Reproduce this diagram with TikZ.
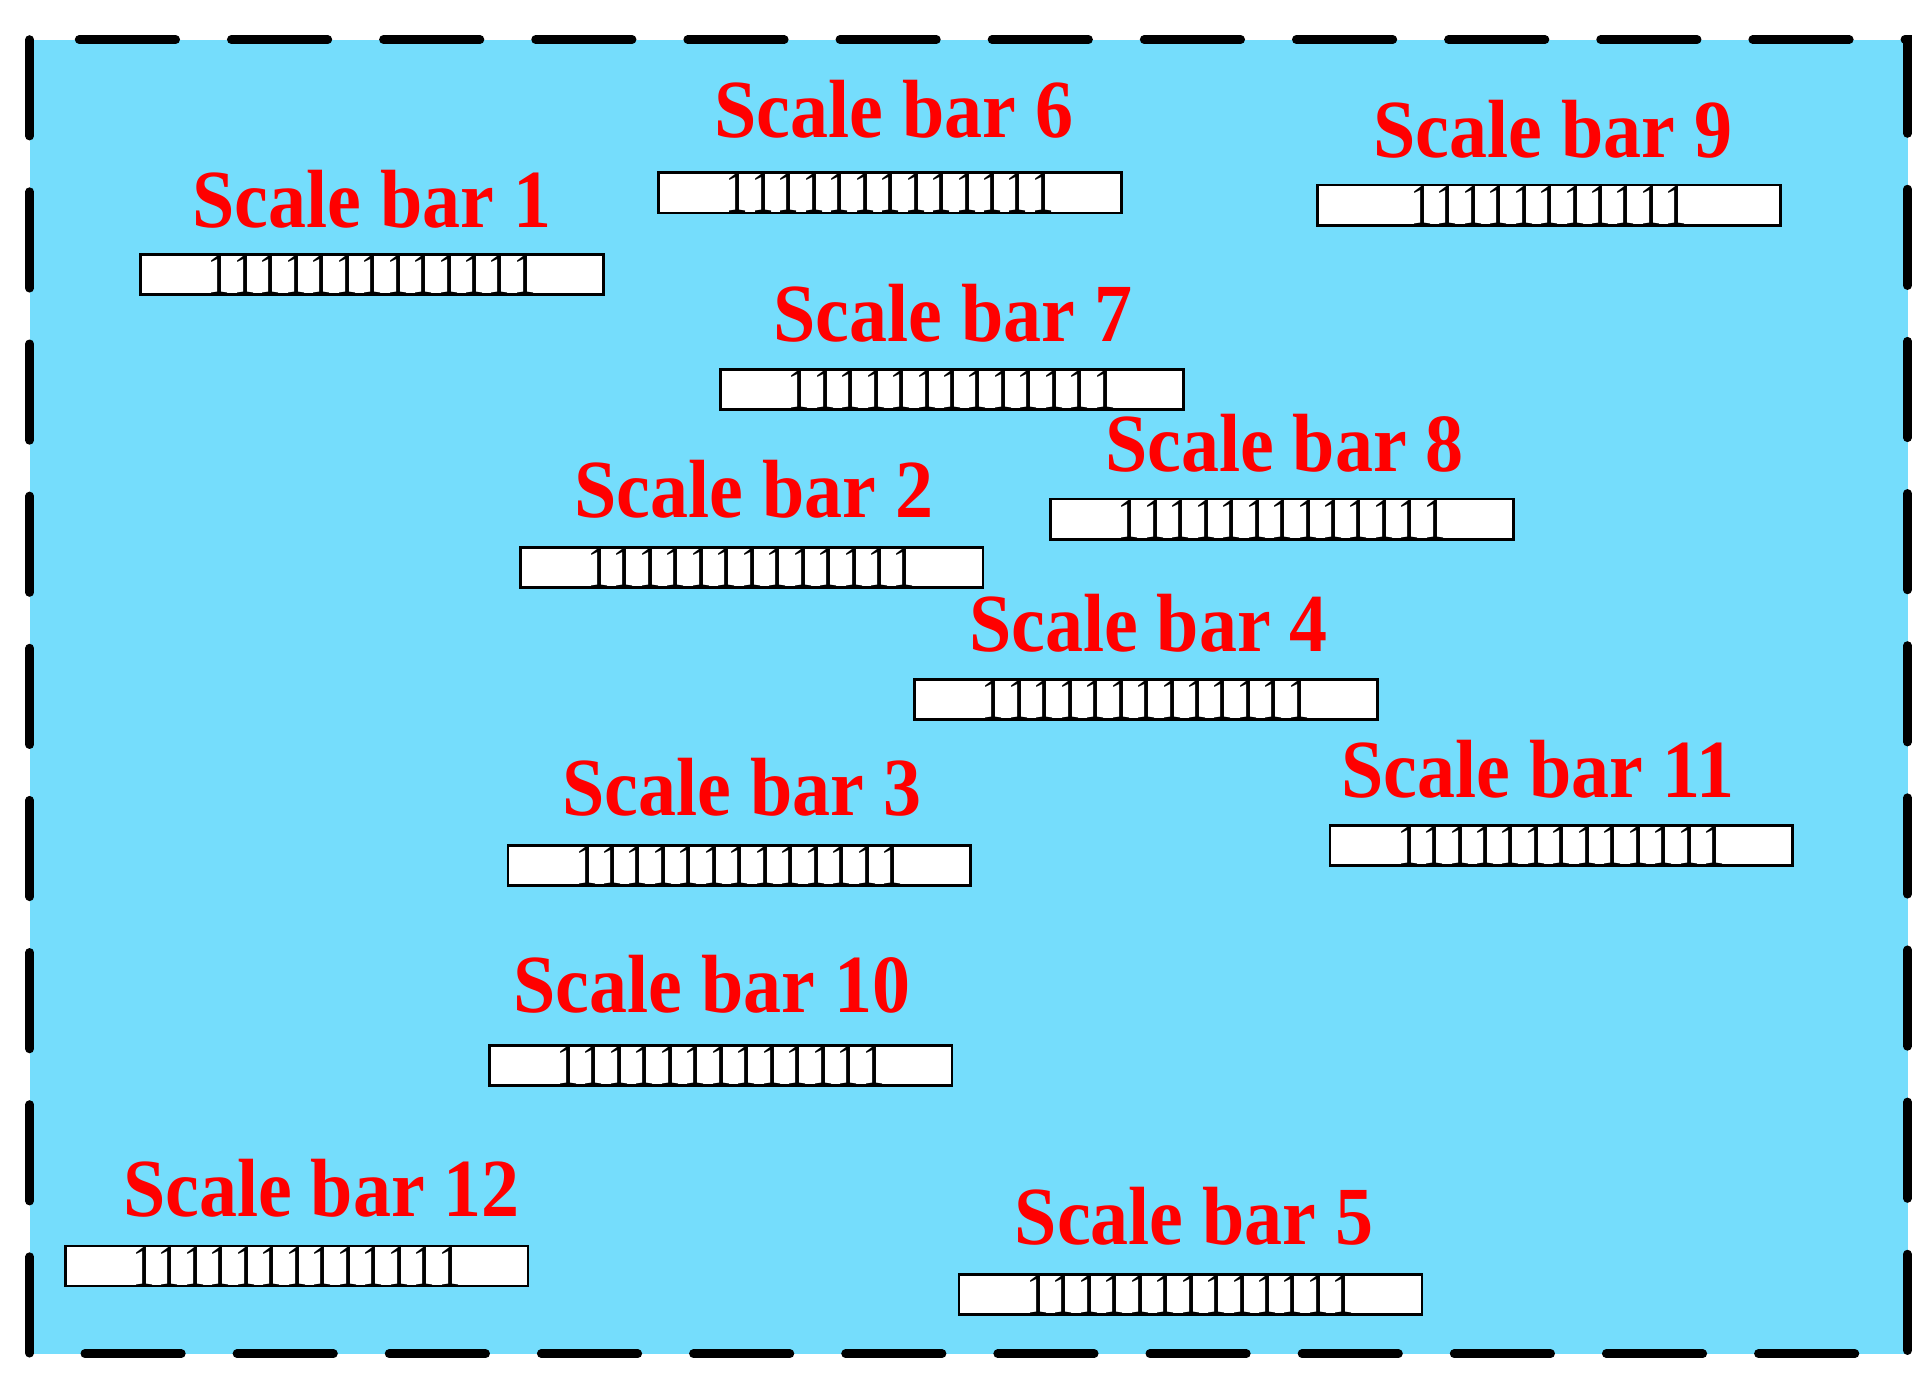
\documentclass[tikz,border=0pt]{standalone}
\usepackage{fontspec}
\setmainfont{Liberation Serif}
\begin{document}
\begin{tikzpicture}[x=0.01cm,y=-0.01cm,
  ttl/.style={text=red,font=\fontsize{19}{20}\selectfont\bfseries,inner sep=0pt,anchor=base},
  bar/.style={draw=black,fill=white,line width=0.6pt,minimum width=3.74cm,minimum height=0.32cm,inner sep=0pt,font=\fontsize{14}{12}\selectfont}]
\useasboundingbox (0,0) rectangle (1562,1118);
\draw[fill={rgb,255:red,117;green,221;blue,252},line width=2pt,line cap=round,dash pattern=on 0.78cm off 0.45cm]
  (24,32) rectangle (1543,1095);
\newcommand\sbar[6]{%
  \node[ttl] (t#1) at (#2,#3) {\scalebox{0.92}[1]{Scale bar #1}};
  \node[bar] (b#1) at (#4+187,#5+16) {\raisebox{-0.4ex}{\scalebox{0.75}[1]{\addfontfeatures{LetterSpace=9.5}#6}}};}
\sbar{1}{301}{184}{114}{206}{1111111111111}
\sbar{6}{723}{111}{533}{140}{1111111111111}
\sbar{9}{1256}{127}{1066}{150}{11111111111}
\sbar{7}{771}{276}{583}{299}{1111111111111}
\sbar{8}{1039}{381}{850}{404}{1111111111111}
\sbar{2}{610}{419}{421}{443}{1111111111111}
\sbar{4}{929}{527}{740}{550}{1111111111111}
\sbar{11}{1244}{645}{1076}{668}{1111111111111}
\sbar{3}{600}{660}{411}{684}{1111111111111}
\sbar{10}{576}{819}{396}{846}{1111111111111}
\sbar{12}{260}{984}{53}{1008}{1111111111111}
\sbar{5}{966}{1007}{776}{1031}{1111111111111}
\end{tikzpicture}
\end{document}
